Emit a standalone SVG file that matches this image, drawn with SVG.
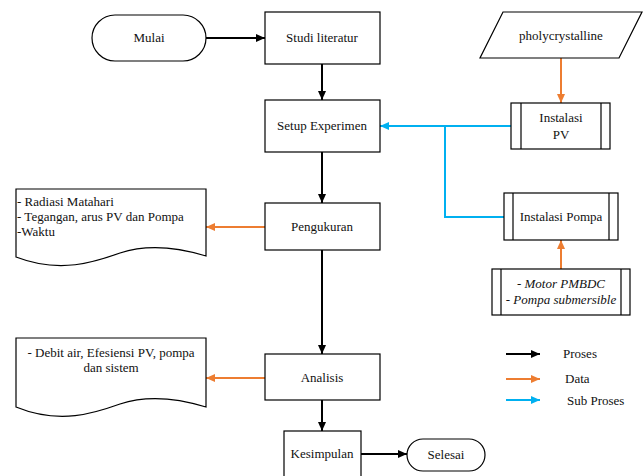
<svg xmlns="http://www.w3.org/2000/svg" width="644" height="476" viewBox="0 0 644 476" font-family="'Liberation Serif', 'DejaVu Serif', serif">
<style>
text{font-family:'Liberation Serif','DejaVu Serif','Times New Roman',serif;font-size:13px;fill:#111}
.t{text-anchor:middle}
.box{fill:#fff;stroke:#000;stroke-width:1.2}
.k{stroke:#000;stroke-width:2;fill:none}
.o{stroke:#ED7D31;stroke-width:2;fill:none}
.b{stroke:#00B0F0;stroke-width:2;fill:none}
</style>
<defs>
<marker id="ak" markerUnits="userSpaceOnUse" markerWidth="10" markerHeight="10" refX="9" refY="5" orient="auto"><path d="M0,1 L9,5 L0,9 Z" fill="#000"/></marker>
<marker id="ao" markerUnits="userSpaceOnUse" markerWidth="10" markerHeight="10" refX="9" refY="5" orient="auto"><path d="M0,1 L9,5 L0,9 Z" fill="#ED7D31"/></marker>
<marker id="ab" markerUnits="userSpaceOnUse" markerWidth="10" markerHeight="10" refX="9" refY="5" orient="auto"><path d="M0,1 L9,5 L0,9 Z" fill="#00B0F0"/></marker>
</defs>
<rect width="644" height="476" fill="#fff"/>

<g id="connectors">
<line class="k" x1="206" y1="38" x2="265" y2="38" marker-end="url(#ak)"/>
<line class="k" x1="322" y1="64" x2="322" y2="100" marker-end="url(#ak)"/>
<line class="k" x1="322" y1="152" x2="322" y2="203" marker-end="url(#ak)"/>
<line class="k" x1="322" y1="250" x2="322" y2="354" marker-end="url(#ak)"/>
<line class="k" x1="322" y1="400" x2="322" y2="431" marker-end="url(#ak)"/>
<line class="k" x1="361" y1="454" x2="407" y2="454" marker-end="url(#ak)"/>
<line class="o" x1="265" y1="227" x2="206" y2="227" marker-end="url(#ao)"/>
<line class="o" x1="265" y1="378" x2="206" y2="378" marker-end="url(#ao)"/>
<line class="o" x1="561" y1="58" x2="561" y2="103" marker-end="url(#ao)"/>
<line class="o" x1="561" y1="269" x2="561" y2="240" marker-end="url(#ao)"/>
<line class="b" x1="511" y1="126" x2="380" y2="126" marker-end="url(#ab)"/>
<polyline class="b" points="445,126 445,217 504,217"/>
</g>

<g id="mulai">
<rect class="box" x="92" y="15" width="114" height="46" rx="23" ry="23"/>
<text class="t" x="149" y="42">Mulai</text>
</g>
<g id="studi">
<rect class="box" x="265" y="12" width="115" height="52"/>
<text class="t" x="322" y="42">Studi literatur</text>
</g>
<g id="setup">
<rect class="box" x="265" y="100" width="115" height="52"/>
<text class="t" x="322" y="130">Setup Experimen</text>
</g>
<g id="pengukuran">
<rect class="box" x="265" y="203" width="115" height="47"/>
<text class="t" x="322" y="231">Pengukuran</text>
</g>
<g id="analisis">
<rect class="box" x="265" y="354" width="115" height="46"/>
<text class="t" x="322" y="382">Analisis</text>
</g>
<g id="kesimpulan">
<rect class="box" x="284" y="431" width="77" height="50"/>
<text class="t" x="322" y="458">Kesimpulan</text>
</g>
<g id="selesai">
<rect class="box" x="407" y="439" width="78" height="32" rx="16" ry="16"/>
<text class="t" x="446" y="459">Selesai</text>
</g>
<g id="doc1">
<path class="box" d="M16,189 L206,189 L206,256 C180,248 150,243 120,253 C95,262 60,274 16,257 Z"/>
<text x="17" y="206">- Radiasi Matahari</text>
<text x="17" y="221">- Tegangan, arus PV dan Pompa</text>
<text x="17" y="236">-Waktu</text>
</g>
<g id="doc2">
<path class="box" d="M16,338 L206,338 L206,407 C180,399 150,394 120,404 C95,413 60,425 16,407 Z"/>
<text class="t" x="111" y="357">- Debit air, Efesiensi PV, pompa</text>
<text class="t" x="111" y="372">dan sistem</text>
</g>
<g id="pholy">
<path class="box" d="M503,12 L642,12 L619,58 L480,58 Z"/>
<text class="t" x="561" y="40">pholycrystalline</text>
</g>
<g id="instalasi-pv">
<rect class="box" x="511" y="103" width="99" height="46"/>
<line class="box" x1="521" y1="103" x2="521" y2="149"/>
<line class="box" x1="601" y1="103" x2="601" y2="149"/>
<text class="t" x="561" y="122">Instalasi</text>
<text class="t" x="561" y="139">PV</text>
</g>
<g id="instalasi-pompa">
<rect class="box" x="504" y="193" width="114" height="47"/>
<line class="box" x1="513" y1="193" x2="513" y2="240"/>
<line class="box" x1="609" y1="193" x2="609" y2="240"/>
<text class="t" x="561" y="221">Instalasi Pompa</text>
</g>
<g id="motor">
<rect class="box" x="492" y="269" width="138" height="46"/>
<line class="box" x1="501" y1="269" x2="501" y2="315"/>
<line class="box" x1="621" y1="269" x2="621" y2="315"/>
<text class="t" x="561" y="288" font-style="italic">- Motor PMBDC</text>
<text class="t" x="561" y="304" font-style="italic">- Pompa submersible</text>
</g>
<g id="legend">
<line class="k" x1="506" y1="354" x2="540" y2="354" marker-end="url(#ak)"/>
<line class="o" x1="506" y1="379" x2="540" y2="379" marker-end="url(#ao)"/>
<line class="b" x1="506" y1="400" x2="540" y2="400" marker-end="url(#ab)"/>
<text x="563" y="358">Proses</text>
<text x="565" y="383">Data</text>
<text x="567" y="405">Sub Proses</text>
</g>
</svg>
